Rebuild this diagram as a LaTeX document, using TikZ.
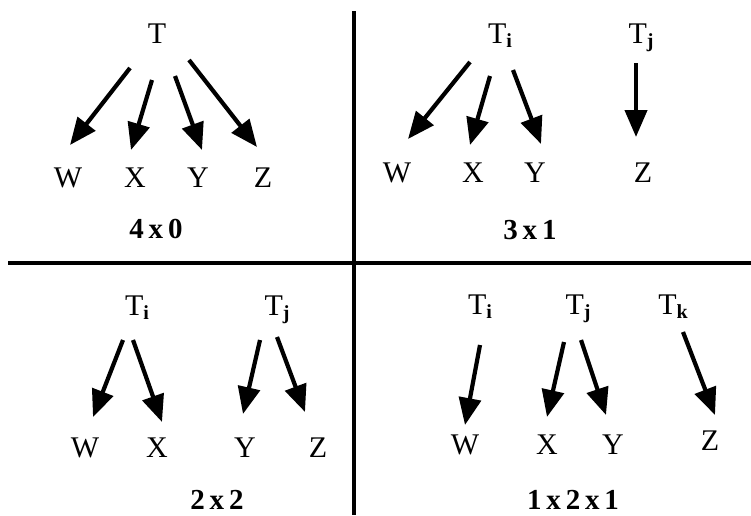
\documentclass[tikz,border=0pt]{standalone}
\usepackage{fontspec}
\setmainfont{Liberation Serif}
\usetikzlibrary{arrows.meta}
\tikzset{
  lbl/.style={font=\fontsize{30}{30}\selectfont, inner sep=0pt, anchor=base},
  caption/.style={font=\fontsize{29}{29}\selectfont\bfseries, inner sep=0pt, anchor=base, text depth=0pt},
  arr/.style={line width=4.2pt, -{Triangle[length=27pt,width=22pt]}},
  divider/.style={line width=3.8pt}
}
\newcommand{\subsc}[1]{{\fontsize{20}{20}\selectfont\bfseries\raisebox{-4pt}{#1}}}
\begin{document}
\begin{tikzpicture}[x=1pt,y=-1pt]
\useasboundingbox (0,0) rectangle (751,515);
% dividers
\coordinate (hl) at (8,263);
\coordinate (hr) at (751,263);
\coordinate (vt) at (354,11);
\coordinate (vb) at (354,515);
\draw[divider] (hl) -- (hr);
\draw[divider] (vt) -- (vb);

% ---------- Quadrant 1: 4x0 ----------
\node[lbl] (qa-T) at (157,43) {T};
\node[lbl] (qa-W) at (68,187) {W};
\node[lbl] (qa-X) at (135,187) {X};
\node[lbl] (qa-Y) at (198,187) {Y};
\node[lbl] (qa-Z) at (263,187) {Z};
\node[caption] (qa-c) at (156,238) {4\,x\,0};
\coordinate (qa-s1) at (130,68);  \coordinate (qa-e1) at (70,145);
\coordinate (qa-s2) at (152,80);  \coordinate (qa-e2) at (131,150);
\coordinate (qa-s3) at (175,76);  \coordinate (qa-e3) at (202,150);
\coordinate (qa-s4) at (189,60);  \coordinate (qa-e4) at (257,147);
\draw[arr] (qa-s1) -- (qa-e1);
\draw[arr] (qa-s2) -- (qa-e2);
\draw[arr] (qa-s3) -- (qa-e3);
\draw[arr] (qa-s4) -- (qa-e4);

% ---------- Quadrant 2: 3x1 ----------
\node[lbl] (qb-Ti) at (500,43) {T\subsc{i}};
\node[lbl] (qb-Tj) at (641,43) {T\subsc{j}};
\node[lbl] (qb-W) at (397,182) {W};
\node[lbl] (qb-X) at (473,182) {X};
\node[lbl] (qb-Y) at (535,182) {Y};
\node[lbl] (qb-Z) at (643,182) {Z};
\node[caption] (qb-c) at (530,239) {3\,x\,1};
\coordinate (qb-s1) at (470,62);  \coordinate (qb-e1) at (408,139);
\coordinate (qb-s2) at (490,76);  \coordinate (qb-e2) at (470,145);
\coordinate (qb-s3) at (513,70);  \coordinate (qb-e3) at (541,144);
\coordinate (qb-s4) at (636,63);  \coordinate (qb-e4) at (636,137);
\draw[arr] (qb-s1) -- (qb-e1);
\draw[arr] (qb-s2) -- (qb-e2);
\draw[arr] (qb-s3) -- (qb-e3);
\draw[arr] (qb-s4) -- (qb-e4);

% ---------- Quadrant 3: 2x2 ----------
\node[lbl] (qc-Ti) at (137,315) {T\subsc{i}};
\node[lbl] (qc-Tj) at (277,315) {T\subsc{j}};
\node[lbl] (qc-W) at (85,457) {W};
\node[lbl] (qc-X) at (157,457) {X};
\node[lbl] (qc-Y) at (245,457) {Y};
\node[lbl] (qc-Z) at (318,457) {Z};
\node[caption] (qc-c) at (217,509) {2\,x\,2};
\coordinate (qc-s1) at (123,340);  \coordinate (qc-e1) at (93,417);
\coordinate (qc-s2) at (133,340);  \coordinate (qc-e2) at (162,422);
\coordinate (qc-s3) at (260,340);  \coordinate (qc-e3) at (243,414);
\coordinate (qc-s4) at (277,337);  \coordinate (qc-e4) at (305,412);
\draw[arr] (qc-s1) -- (qc-e1);
\draw[arr] (qc-s2) -- (qc-e2);
\draw[arr] (qc-s3) -- (qc-e3);
\draw[arr] (qc-s4) -- (qc-e4);

% ---------- Quadrant 4: 1x2x1 ----------
\node[lbl] (qd-Ti) at (480,314) {T\subsc{i}};
\node[lbl] (qd-Tj) at (578,314) {T\subsc{j}};
\node[lbl] (qd-Tk) at (673,314) {T\subsc{k}};
\node[lbl] (qd-W) at (465,454) {W};
\node[lbl] (qd-X) at (547,454) {X};
\node[lbl] (qd-Y) at (613,454) {Y};
\node[lbl] (qd-Z) at (710,450) {Z};
\node[caption] (qd-c) at (573,509) {1\,x\,2\,x\,1};
\coordinate (qd-s1) at (480,345);  \coordinate (qd-e1) at (465,425);
\coordinate (qd-s2) at (564,342);  \coordinate (qd-e2) at (547,417);
\coordinate (qd-s3) at (581,340);  \coordinate (qd-e3) at (606,415);
\coordinate (qd-s4) at (683,332);  \coordinate (qd-e4) at (715,415);
\draw[arr] (qd-s1) -- (qd-e1);
\draw[arr] (qd-s2) -- (qd-e2);
\draw[arr] (qd-s3) -- (qd-e3);
\draw[arr] (qd-s4) -- (qd-e4);
\end{tikzpicture}
\end{document}
